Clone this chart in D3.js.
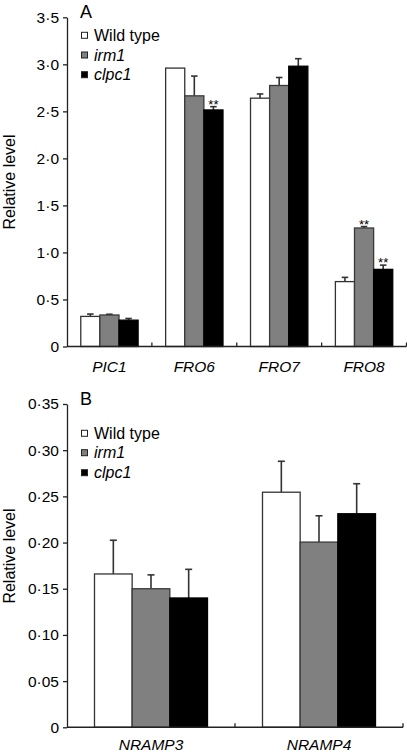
<!DOCTYPE html>
<html>
<head>
<meta charset="utf-8">
<script src="https://cdn.jsdelivr.net/npm/d3@7"></script>
<style>
  html, body { margin: 0; padding: 0; background: #fff; }
  svg { display: block; font-family: "Liberation Sans", Arial, Helvetica, sans-serif; }
</style>
</head>
<body>
<svg id="chart" width="407" height="755"></svg>
<script>
// ---------- DATA ----------
const seriesNames = ["Wild type", "irm1", "clpc1"];
const seriesItalic = [false, true, true];

// Panel A
const genesA = ["PIC1", "FRO6", "FRO7", "FRO8"];
const wildA = [0.32, 2.96, 2.64, 0.69];
const irm1A = [0.335, 2.665, 2.775, 1.26];
const clpc1A = [0.28, 2.515, 2.98, 0.82];
const wildAErr = [0.025, 0.0, 0.045, 0.045];
const irm1AErr = [0.008, 0.21, 0.085, 0.015];
const clpc1AErr = [0.018, 0.035, 0.08, 0.045];
const sigA = [[false, false, false], [false, false, true], [false, false, false], [false, true, true]];
const ticksA = [0, 0.5, 1.0, 1.5, 2.0, 2.5, 3.0, 3.5];

// Panel B
const genesB = ["NRAMP3", "NRAMP4"];
const wildB = [0.166, 0.2545];
const irm1B = [0.150, 0.2005];
const clpc1B = [0.140, 0.2312];
const wildBErr = [0.0365, 0.0335];
const irm1BErr = [0.015, 0.0285];
const clpc1BErr = [0.031, 0.0325];
const ticksB = [0, 0.05, 0.10, 0.15, 0.20, 0.25, 0.30, 0.35];

// ---------- STYLE ----------
const fills = ["#ffffff", "#808080", "#000000"];
const strokes = ["#333333", "#3a3a3a", "#000000"];
const axisColor = "#222";

const svg = d3.select("#chart");

function drawPanel(cfg) {
  const g = svg.append("g");
  const y = d3.scaleLinear().domain(cfg.domain).range([cfg.y0, cfg.y1]);
  const xg = d3.scaleBand().domain(cfg.genes).range([cfg.x0, cfg.x1]).paddingInner(0).paddingOuter(0);
  const xs = d3.scaleBand().domain(d3.range(3)).range([0, xg.bandwidth()]).paddingInner(0).paddingOuter(cfg.pad);

  const values = [cfg.wild, cfg.irm1, cfg.clpc1];
  const errs = [cfg.wildErr, cfg.irm1Err, cfg.clpc1Err];

  cfg.genes.forEach((gene, gi) => {
    for (let s = 0; s < 3; s++) {
      const v = values[s][gi];
      const e = errs[s][gi];
      const bx = xg(gene) + xs(s);
      const bw = xs.bandwidth();
      const cx = bx + bw / 2;
      if (e > 0) {
        g.append("line")
          .attr("x1", cx).attr("x2", cx)
          .attr("y1", y(v)).attr("y2", y(v + e))
          .attr("stroke", "#333").attr("stroke-width", 1.6);
        g.append("line")
          .attr("x1", cx - cfg.cap / 2).attr("x2", cx + cfg.cap / 2)
          .attr("y1", y(v + e)).attr("y2", y(v + e))
          .attr("stroke", "#333").attr("stroke-width", 1.6);
      }
      g.append("rect")
        .attr("x", bx).attr("y", y(v))
        .attr("width", bw).attr("height", y(0) - y(v))
        .attr("fill", fills[s]).attr("stroke", strokes[s]).attr("stroke-width", 1.3);
      if (cfg.sig && cfg.sig[gi][s]) {
        g.append("text")
          .attr("x", cx).attr("y", y(v + e) + 2)
          .attr("text-anchor", "middle")
          .attr("font-size", 13)
          .text("**");
      }
    }
  });

  const fmt = cfg.fmt;
  const yAxis = d3.axisLeft(y).tickValues(cfg.ticks).tickSize(4).tickSizeOuter(0).tickPadding(4)
    .tickFormat(d => d === 0 ? "0" : fmt(d).replace(".", "\u00b7"));
  const ya = g.append("g").attr("transform", `translate(${cfg.x0},0)`).call(yAxis);
  ya.select(".domain").attr("stroke", axisColor).attr("stroke-width", 1.3);
  ya.selectAll(".tick line").attr("stroke", axisColor).attr("stroke-width", 1.3);
  ya.selectAll(".tick text").attr("font-size", 15.5).attr("fill", "#000")
    .attr("font-family", "'Liberation Sans', Arial, sans-serif");

  const xa = g.append("g");
  xa.append("line")
    .attr("x1", cfg.x0).attr("x2", cfg.x1)
    .attr("y1", y(0)).attr("y2", y(0))
    .attr("stroke", axisColor).attr("stroke-width", 1.5);
  cfg.genes.forEach(gene => {
    const bx = xg(gene) + xg.bandwidth();
    xa.append("line")
      .attr("x1", bx).attr("x2", bx)
      .attr("y1", y(0)).attr("y2", y(0) - 4)
      .attr("stroke", axisColor).attr("stroke-width", 1.3);
    xa.append("text")
      .attr("x", xg(gene) + xg.bandwidth() / 2)
      .attr("y", cfg.labelY)
      .attr("text-anchor", "middle")
      .attr("font-size", 15.5)
      .attr("font-style", "italic")
      .text(gene);
  });

  g.append("text")
    .attr("transform", `translate(${cfg.ylabX},${cfg.ylabY}) rotate(-90)`)
    .attr("text-anchor", "middle")
    .attr("font-size", 16)
    .text("Relative level");

  g.append("text")
    .attr("x", cfg.x0 + 13).attr("y", cfg.letterY)
    .attr("font-size", 18)
    .text(cfg.letter);

  seriesNames.forEach((name, i) => {
    const cy = cfg.legY[i];
    g.append("rect")
      .attr("x", 81.5).attr("y", cy - 3)
      .attr("width", 6).attr("height", 6)
      .attr("fill", fills[i]).attr("stroke", "#222").attr("stroke-width", 1);
    g.append("text")
      .attr("x", 94).attr("y", cy)
      .attr("dy", "0.36em")
      .attr("font-size", 16)
      .attr("font-style", seriesItalic[i] ? "italic" : "normal")
      .text(name);
  });
}

drawPanel({
  genes: genesA, wild: wildA, irm1: irm1A, clpc1: clpc1A,
  wildErr: wildAErr, irm1Err: irm1AErr, clpc1Err: clpc1AErr, sig: sigA,
  domain: [0, 3.5], ticks: ticksA, fmt: d3.format(".1f"),
  y0: 346.5, y1: 17.3, x0: 67, x1: 406.5, pad: 0.72, cap: 6.5,
  labelY: 371.5, ylabX: 14.5, ylabY: 182, letterY: 17.5, letter: "A",
  legY: [35.3, 55, 74.7]
});

drawPanel({
  genes: genesB, wild: wildB, irm1: irm1B, clpc1: clpc1B,
  wildErr: wildBErr, irm1Err: irm1BErr, clpc1Err: clpc1BErr, sig: null,
  domain: [0, 0.35], ticks: ticksB, fmt: d3.format(".2f"),
  y0: 727.3, y1: 404, x0: 67, x1: 403, pad: 0.73, cap: 7,
  labelY: 750, ylabX: 14.5, ylabY: 556, letterY: 405, letter: "B",
  legY: [433.3, 452.7, 472.7]
});
</script>
</body>
</html>
